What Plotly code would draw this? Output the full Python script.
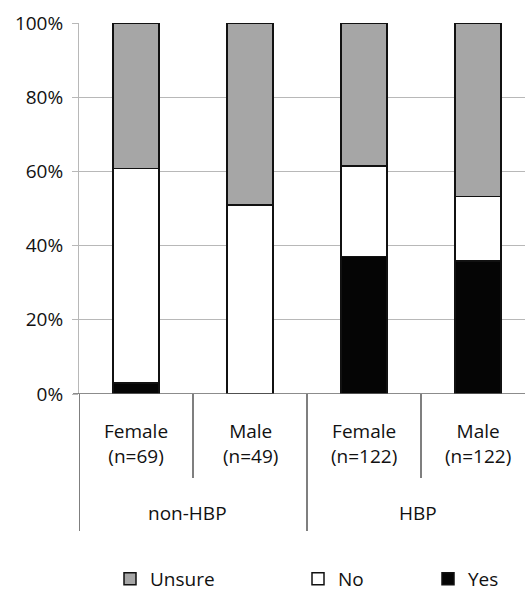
import plotly.graph_objects as go

categories = ["Female<br>(n=69)", "Male<br>(n=49)", "Female<br>(n=122)", "Male<br>(n=122)"]
groups = ["non-HBP", "HBP"]
yes_vals = [2.9, 0.0, 37.1, 35.8]
no_vals = [57.9, 51.0, 24.4, 17.4]
unsure_vals = [39.2, 49.0, 38.5, 46.8]
y_ticks = [0, 20, 40, 60, 80, 100]
y_tick_text = ["0%", "20%", "40%", "60%", "80%", "100%"]

FONT = "Open Sans"
FS = 19
W, H = 525, 602          # window shows 591 rows; the extra rows hold the legend's padding
L, R, T = 79, 0, 23
BASE_PY = 394            # pixel row of the 0% line
B = H - BASE_PY
plot_w = W - L - R
plot_h = H - T - B

x_idx = list(range(len(categories)))

fig = go.Figure()
series = [
    ("Yes", yes_vals, "#050505", "legend3"),
    ("No", no_vals, "#ffffff", "legend2"),
    ("Unsure", unsure_vals, "#a6a6a6", "legend"),
]
for name, vals, color, lg in series:
    fig.add_trace(go.Bar(
        x=x_idx, y=vals, name=name, width=0.4,
        marker=dict(color=color, line=dict(color="#111111", width=1.5)),
        legend=lg, hoverinfo="skip",
    ))

def py_to_paper(py):
    return (BASE_PY - py) / plot_h

def px_to_paper(px):
    return (px - L) / plot_w

shapes = []
for xb, long_ in [(-0.5, True), (0.5, False), (1.5, True), (2.5, False)]:
    shapes.append(dict(type="line", xref="x", yref="paper", x0=xb, x1=xb,
                       y0=0, y1=py_to_paper(531 if long_ else 478),
                       line=dict(color="#555555", width=1.5)))
shapes.append(dict(type="line", xref="paper", yref="y", x0=px_to_paper(73), x1=1, y0=0, y1=0,
                   line=dict(color="#666666", width=1.5), layer="above"))

annotations = []
for i, c in enumerate(categories):
    annotations.append(dict(x=i, y=py_to_paper(444), xref="x", yref="paper", text=c,
                            showarrow=False, font=dict(size=FS, color="#111111", family=FONT),
                            xanchor="center", yanchor="middle"))
for g, gx in zip(groups, [0.45, 2.47]):
    annotations.append(dict(x=gx, y=py_to_paper(513), xref="x", yref="paper", text=g,
                            showarrow=False, font=dict(size=FS, color="#111111", family=FONT),
                            xanchor="center", yanchor="middle"))

leg_common = dict(orientation="h", yanchor="bottom", xanchor="left",
                  font=dict(size=FS, color="#111111", family=FONT),
                  bgcolor="rgba(0,0,0,0)", borderwidth=0, y=py_to_paper(598))

fig.update_layout(
    width=W, height=H,
    margin=dict(l=L, r=R, t=T, b=B, pad=0),
    paper_bgcolor="white", plot_bgcolor="white",
    barmode="stack",
    showlegend=True,
    font=dict(family=FONT, size=FS, color="#111111"),
    xaxis=dict(range=[-0.5, -0.5 + plot_w / 114.0], showticklabels=False, showgrid=False,
               zeroline=False, showline=False, ticks="", fixedrange=True),
    yaxis=dict(range=[0, 100], tickmode="array", tickvals=y_ticks, ticktext=y_tick_text,
               showgrid=True, gridcolor="#b8b8b8", gridwidth=1, zeroline=False, showline=True,
               linecolor="#b8b8b8", linewidth=1, ticks="outside", ticklen=6,
               ticklabelstandoff=5, fixedrange=True,
               tickcolor="#b8b8b8", tickfont=dict(size=FS, color="#111111", family=FONT)),
    shapes=shapes,
    annotations=annotations,
    legend=dict(x=px_to_paper(110), **leg_common),
    legend2=dict(x=px_to_paper(298), **leg_common),
    legend3=dict(x=px_to_paper(428), **leg_common),
)

fig.write_html("out.html", config={"displayModeBar": False},
               post_script="document.body.style.margin='0';document.body.style.overflow='hidden';")
